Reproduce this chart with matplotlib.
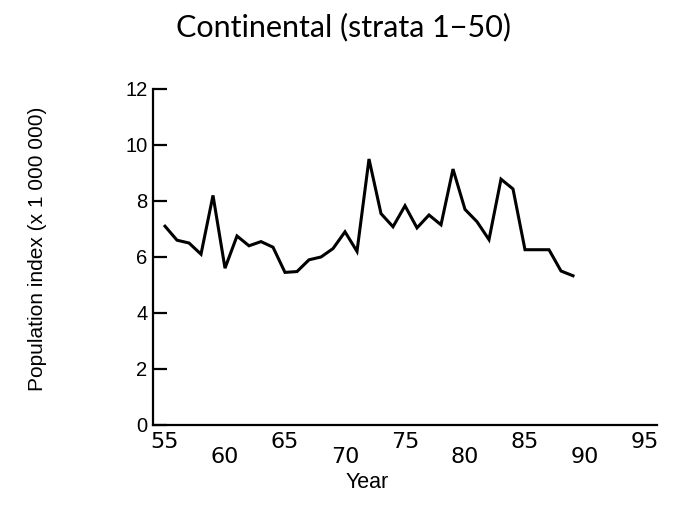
import numpy as np
import matplotlib
matplotlib.use("Agg")
import matplotlib.pyplot as plt

# population index (x 1 000 000)
years = [55, 56, 57, 58, 59, 60, 61, 62, 63, 64, 65, 66, 67, 68, 69, 70, 71, 72,
         73, 74, 75, 76, 77, 78, 79, 80, 81, 82, 83, 84, 85, 86, 87, 88, 89]
index = [7.1, 6.6, 6.5, 6.1, 8.2, 5.6, 6.75, 6.4, 6.55, 6.35, 5.45, 5.48, 5.9,
         6.0, 6.3, 6.9, 6.2, 9.5, 7.55, 7.08, 7.83, 7.04, 7.5, 7.15, 9.14,
         7.7, 7.26, 6.62, 8.78, 8.43, 6.26, 6.26, 6.26, 5.5, 5.33]

upper_ticks = [55, 65, 75, 85, 95]
lower_ticks = [60, 70, 80, 90]
y_ticks = [0, 2, 4, 6, 8, 10, 12]

fig = plt.figure(figsize=(6.77, 5.05), dpi=100)
ax = fig.add_axes([153 / 677, 1 - 425 / 505, (657 - 153) / 677, (425 - 89) / 505])

ax.plot(years, index, color="black", lw=2.2, solid_joinstyle="miter")

ax.set_xlim(54, 96)
ax.set_ylim(0, 12)
for s in ["top", "right"]:
    ax.spines[s].set_visible(False)
ax.spines["left"].set_linewidth(1.6)
ax.spines["bottom"].set_linewidth(1.6)

tick_font = {"family": ["DejaVu Sans Condensed", "DejaVu Sans"], "size": 16}
ax.set_xticks(upper_ticks)
ax.set_xticklabels([str(t) for t in upper_ticks], fontdict=tick_font)
ax.set_xticks(lower_ticks, minor=True)
ax.set_xticklabels([str(t) for t in lower_ticks], minor=True, fontdict=tick_font)
ax.tick_params(axis="x", which="major", length=0, pad=5)
ax.tick_params(axis="x", which="minor", length=0, pad=15.5)

ax.set_yticks(y_ticks)
ax.set_yticklabels([str(t) for t in y_ticks],
                   fontdict={"family": "Liberation Sans", "size": 14.5})
ax.tick_params(axis="y", direction="in", length=10, width=1.6, pad=4)

fig.text(367 / 677, 1 - 482 / 505, "Year", ha="center", va="center",
         family="Liberation Sans", fontsize=15.5)
fig.text(38 / 677, 1 - 249 / 505, "Population index (x 1 000 000)", rotation=90,
         ha="center", va="center", family="Liberation Sans", fontsize=15)
fig.text(343 / 677, 1 - 27 / 505, "Continental (strata 1\u221250)", ha="center",
         va="center", family=["Lato", "DejaVu Sans"], fontsize=22)

fig.savefig("out.png", dpi=100)
